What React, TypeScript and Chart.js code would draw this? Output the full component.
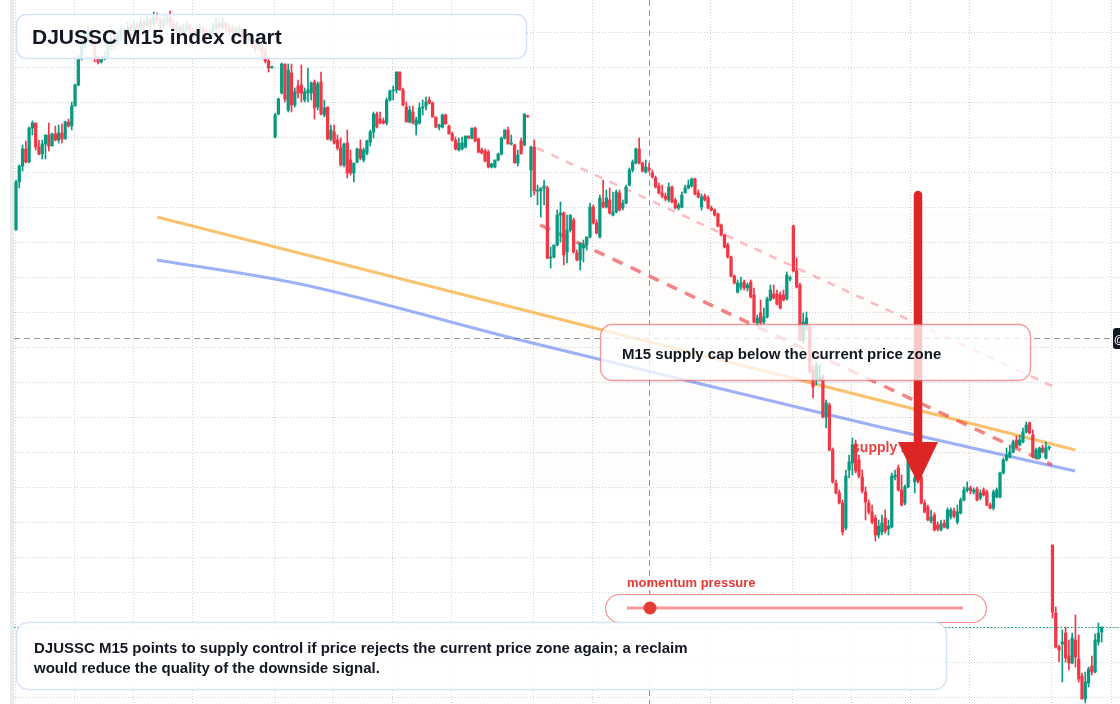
import React, { useEffect, useRef } from "react";
import { Chart, registerables } from "chart.js";

Chart.register(...registerables);

// ---- Candle data (index value, M15 bars) ----
const OPEN = [
  1570,1618,1634,1651,1638,1672,1677,1653,1646,1656,
  1665,1654,1666,1660,1667,1661,1678,1674,1694,1715,
  1742,1755,1762,1770,1758,1743,1738,1741,1743,1752,
  1760,1756,1764,1770,1766,1773,1769,1775,1772,1778,
  1774,1780,1776,1783,1780,1774,1778,1782,1776,1770,
  1773,1767,1771,1775,1770,1765,1769,1772,1767,1762,
  1766,1772,1776,1773,1777,1772,1768,1771,1767,1770,
  1765,1760,1763,1757,1752,1755,1748,1739,1732,1663,
  1686,1707,1736,1690,1727,1695,1714,1715,1700,1707,
  1707,1718,1693,1718,1685,1693,1661,1668,1660,1652,
  1635,1657,1640,1627,1638,1651,1640,1647,1658,1668,
  1686,1681,1679,1677,1700,1709,1710,1728,1710,1693,
  1678,1688,1675,1677,1692,1694,1700,1697,1683,1673,
  1673,1685,1674,1666,1660,1650,1651,1653,1664,1662,
  1672,1661,1650,1649,1648,1633,1633,1640,1646,1662,
  1670,1656,1655,1637,1659,1655,1684,1630,1653,1609,
  1609,1612,1612,1542,1543,1555,1585,1587,1548,1570,
  1580,1547,1540,1552,1555,1563,1593,1577,1563,1598,
  1593,1600,1585,1588,1607,1592,1597,1615,1630,1637,
  1651,1637,1628,1632,1627,1622,1614,1607,1604,1600,
  1613,1600,1592,1593,1607,1612,1614,1621,1607,1593,
  1604,1602,1592,1590,1586,1575,1565,1555,1543,1524,
  1508,1513,1518,1512,1518,1505,1477,1487,1478,1483,
  1500,1506,1506,1505,1505,1501,1521,1574,1529,1515,
  1460,1475,1473,1430,1420,1421,1422,1383,1395,1350,
  1317,1307,1297,1272,1330,1337,1356,1340,1323,1308,
  1297,1288,1282,1265,1268,1282,1271,1273,1323,1332,
  1310,1297,1313,1338,1318,1325,1323,1297,1293,1279,
  1285,1275,1270,1277,1272,1283,1289,1278,1287,1300,
  1310,1312,1308,1311,1302,1310,1308,1295,1292,1303,
  1303,1327,1340,1343,1348,1360,1355,1358,1368,1377,
  1365,1342,1342,1352,1342,1352,1255,1187,1153,1156,
  1167,1144,1137,1160,1141,1124,1101,1117,1134,1128,
  1158,1168,
];

const HIGH = [
  1620,1635,1655,1659,1673,1679,1677,1660,1660,1665,
  1677,1667,1674,1675,1676,1679,1681,1698,1716,1745,
  1760,1767,1774,1772,1760,1745,1743,1748,1756,1764,
  1765,1768,1774,1772,1778,1776,1780,1778,1782,1780,
  1784,1782,1788,1787,1782,1783,1785,1789,1780,1778,
  1775,1776,1779,1776,1772,1773,1776,1774,1770,1770,
  1777,1782,1780,1782,1778,1775,1775,1773,1774,1772,
  1768,1767,1765,1760,1760,1756,1752,1742,1734,1687,
  1702,1737,1736,1736,1736,1712,1720,1735,1712,1732,
  1718,1720,1718,1728,1700,1693,1675,1675,1665,1662,
  1657,1670,1650,1637,1652,1660,1652,1660,1670,1688,
  1688,1688,1682,1702,1710,1714,1728,1728,1712,1698,
  1694,1694,1683,1697,1700,1703,1703,1698,1683,1676,
  1686,1686,1675,1668,1663,1662,1663,1664,1664,1672,
  1673,1662,1652,1651,1650,1637,1640,1647,1663,1670,
  1673,1665,1656,1650,1662,1686,1685,1654,1660,1615,
  1612,1620,1614,1553,1555,1590,1598,1588,1585,1585,
  1582,1550,1557,1560,1562,1597,1595,1580,1605,1620,
  1610,1612,1608,1610,1610,1600,1615,1632,1640,1652,
  1662,1638,1640,1637,1630,1624,1617,1615,1607,1617,
  1614,1602,1597,1608,1615,1620,1622,1622,1610,1606,
  1606,1604,1594,1591,1587,1576,1566,1557,1544,1525,
  1520,1523,1520,1517,1520,1512,1485,1500,1492,1503,
  1515,1515,1510,1508,1510,1528,1524,1575,1542,1517,
  1487,1488,1475,1435,1438,1435,1425,1400,1397,1352,
  1320,1310,1300,1330,1345,1362,1360,1345,1330,1313,
  1300,1295,1285,1280,1285,1290,1280,1327,1330,1335,
  1325,1315,1342,1345,1337,1345,1325,1300,1295,1290,
  1287,1278,1280,1280,1292,1292,1292,1295,1302,1313,
  1318,1314,1312,1313,1310,1312,1310,1297,1310,1312,
  1328,1342,1352,1355,1360,1364,1365,1372,1378,1378,
  1370,1352,1353,1355,1358,1354,1255,1193,1155,1170,
  1173,1160,1167,1185,1165,1127,1128,1133,1144,1166,
  1177,1173,
];

const LOW = [
  1570,1612,1629,1637,1637,1665,1650,1645,1641,1641,
  1649,1654,1659,1657,1657,1661,1673,1670,1694,1714,
  1740,1752,1758,1754,1738,1736,1737,1740,1742,1750,
  1751,1754,1760,1761,1764,1765,1767,1766,1769,1770,
  1772,1771,1774,1776,1770,1771,1775,1773,1766,1767,
  1763,1765,1768,1766,1762,1763,1767,1764,1758,1760,
  1764,1770,1769,1771,1768,1765,1766,1763,1764,1762,
  1756,1758,1752,1748,1750,1742,1737,1728,1732,1662,
  1685,1706,1698,1688,1688,1693,1702,1698,1698,1698,
  1700,1681,1690,1685,1683,1660,1659,1656,1650,1634,
  1633,1622,1625,1618,1637,1640,1638,1645,1654,1662,
  1672,1676,1676,1675,1699,1700,1707,1710,1694,1678,
  1677,1676,1665,1676,1685,1690,1696,1683,1672,1670,
  1672,1676,1666,1659,1650,1649,1650,1652,1661,1661,
  1658,1647,1646,1638,1632,1632,1632,1639,1645,1661,
  1656,1655,1637,1634,1646,1654,1683,1603,1605,1595,
  1583,1595,1541,1532,1542,1554,1558,1535,1537,1568,
  1547,1539,1530,1538,1550,1562,1576,1566,1562,1592,
  1592,1586,1584,1587,1589,1590,1596,1614,1628,1636,
  1636,1628,1627,1628,1622,1612,1606,1602,1599,1598,
  1597,1591,1590,1592,1607,1611,1613,1605,1602,1590,
  1599,1591,1589,1584,1573,1564,1552,1542,1523,1516,
  1507,1510,1510,1509,1502,1477,1474,1476,1476,1482,
  1499,1501,1495,1491,1499,1500,1519,1528,1512,1459,
  1457,1470,1427,1402,1415,1419,1382,1372,1349,1317,
  1306,1296,1265,1270,1322,1325,1327,1322,1307,1280,
  1286,1276,1259,1262,1265,1267,1265,1272,1320,1309,
  1294,1295,1312,1330,1307,1322,1296,1287,1279,1277,
  1269,1269,1269,1272,1271,1281,1282,1276,1286,1299,
  1308,1306,1306,1299,1300,1304,1294,1291,1290,1302,
  1302,1326,1339,1342,1347,1352,1354,1357,1367,1366,
  1342,1341,1341,1347,1341,1350,1182,1152,1138,1118,
  1138,1130,1136,1133,1118,1101,1097,1113,1125,1127,
  1155,1158,
];

const CLOSE = [
  1618,1634,1651,1638,1672,1677,1653,1646,1656,1665,
  1654,1666,1660,1667,1661,1678,1674,1694,1715,1742,
  1755,1762,1770,1758,1743,1738,1741,1743,1752,1760,
  1756,1764,1770,1766,1773,1769,1775,1772,1778,1774,
  1780,1776,1783,1780,1774,1778,1782,1776,1770,1773,
  1767,1771,1775,1770,1765,1769,1772,1767,1762,1766,
  1772,1776,1773,1777,1772,1768,1771,1767,1770,1765,
  1760,1763,1757,1752,1755,1748,1739,1732,1733,1685,
  1701,1736,1701,1730,1695,1708,1707,1707,1708,1710,
  1717,1692,1716,1686,1692,1661,1670,1657,1652,1635,
  1656,1627,1627,1637,1651,1642,1650,1659,1668,1686,
  1673,1677,1677,1700,1709,1710,1728,1710,1695,1678,
  1690,1677,1680,1692,1693,1698,1697,1683,1673,1675,
  1685,1676,1666,1660,1651,1657,1657,1664,1662,1672,
  1659,1648,1647,1639,1633,1636,1640,1646,1662,1670,
  1656,1656,1637,1645,1646,1686,1683,1653,1609,1610,
  1612,1614,1542,1543,1555,1585,1587,1545,1570,1585,
  1548,1540,1557,1555,1563,1593,1577,1567,1602,1593,
  1602,1587,1588,1608,1590,1597,1613,1630,1638,1651,
  1637,1629,1633,1630,1623,1613,1607,1604,1601,1613,
  1598,1592,1595,1605,1612,1615,1621,1606,1603,1603,
  1600,1592,1590,1585,1574,1565,1553,1543,1524,1517,
  1517,1517,1512,1515,1503,1478,1482,1477,1483,1501,
  1510,1502,1496,1492,1500,1525,1521,1529,1513,1460,
  1478,1482,1428,1413,1434,1423,1383,1397,1350,1318,
  1307,1297,1268,1324,1338,1355,1329,1324,1309,1298,
  1288,1278,1265,1274,1277,1269,1274,1324,1325,1310,
  1295,1313,1340,1335,1322,1340,1297,1288,1280,1283,
  1270,1271,1276,1273,1290,1290,1284,1288,1300,1310,
  1312,1309,1310,1300,1307,1305,1295,1292,1308,1310,
  1327,1340,1345,1348,1358,1353,1360,1368,1375,1367,
  1343,1350,1352,1348,1352,1352,1188,1153,1150,1158,
  1142,1137,1162,1143,1121,1101,1118,1131,1128,1160,
  1167,1173,
];

// session grid (candle index) and price grid (index points)
const TIME_GRID = [0, 18, 36, 54, 79, 97, 115, 133, 158, 176, 212, 237, 255, 273, 291, 316, 334];
const PRICE_GRID = [1768, 1733, 1698, 1663, 1628, 1593, 1558, 1523, 1488, 1453, 1418, 1383, 1348, 1313, 1278, 1243, 1208, 1173, 1138, 1103];

// overlay studies, [candle index, price]
const ORANGE_LINE = [[43, 1583], [323, 1350]];
const BLUE_LINE = [[43, 1540], [86.6, 1516], [153.7, 1460], [232.9, 1397], [263.4, 1373], [322.9, 1329]];
const UPPER_CHANNEL = [[158.8, 1652], [315.9, 1414]];
const LOWER_CHANNEL = [[159.8, 1575], [315.9, 1335]];

const ZONE = { x0: 155.8, x1: 315.2, top: 1587, bottom: 1310 };
const ARROW = { x: 275, top: 1605, base: 1358, tip: 1316 };
const SUPPLY_LABEL = { x: 254.9, y: 1352 };
const CROSSHAIR = { x: 193, y: 1462 };

const UP = "#089981";
const DOWN = "#f23645";
const FONT = '"Liberation Sans", Arial, Helvetica, sans-serif';

const X_MIN = -16 / 3.28;
const X_MAX = X_MIN + 1120 / 3.28;

function rr(ctx: CanvasRenderingContext2D, x: number, y: number, w: number, h: number, r: number | number[]) {
  ctx.beginPath();
  (ctx as any).roundRect(x, y, w, h, r);
}

const decor = {
  id: "decor",
  beforeDraw(chart: any) {
    const { ctx, width, height } = chart;
    ctx.save();
    ctx.fillStyle = "#ffffff";
    ctx.fillRect(0, 0, width, height);
    ctx.fillStyle = "#ebebeb";
    ctx.fillRect(10, 0, 4, height);
    ctx.restore();
  },
  beforeDatasetsDraw(chart: any) {
    const { ctx, width, height } = chart;
    const xs = chart.scales.x;
    const ys = chart.scales.y;
    ctx.save();
    // supply zone shading
    const zx0 = xs.getPixelForValue(ZONE.x0);
    const zx1 = xs.getPixelForValue(ZONE.x1);
    const zy0 = ys.getPixelForValue(ZONE.top);
    const zy1 = ys.getPixelForValue(ZONE.bottom);
    ctx.fillStyle = "rgba(250,120,90,0.018)";
    rr(ctx, zx0, zy0, zx1 - zx0, zy1 - zy0, [0, 0, 22, 0]);
    ctx.fill();
    // dotted grid
    ctx.strokeStyle = "#ced1d6";
    ctx.lineWidth = 1;
    ctx.setLineDash([1, 2]);
    for (const t of TIME_GRID) {
      const x = Math.round(xs.getPixelForValue(t)) - 0.5;
      ctx.beginPath();
      ctx.moveTo(x, 0);
      ctx.lineTo(x, height);
      ctx.stroke();
    }
    for (const p of PRICE_GRID) {
      const y = Math.round(ys.getPixelForValue(p)) + 0.5;
      ctx.beginPath();
      ctx.moveTo(14, y);
      ctx.lineTo(width, y);
      ctx.stroke();
    }
    ctx.restore();
  },
  afterDatasetsDraw(chart: any) {
    const { ctx, width, height } = chart;
    const xs = chart.scales.x;
    const ys = chart.scales.y;
    ctx.save();

    // crosshair
    ctx.strokeStyle = "rgba(120,123,134,0.8)";
    ctx.lineWidth = 1;
    ctx.setLineDash([6, 4]);
    const cx = Math.round(xs.getPixelForValue(CROSSHAIR.x)) + 0.5;
    const cy = Math.round(ys.getPixelForValue(CROSSHAIR.y)) + 0.5;
    ctx.beginPath();
    ctx.moveTo(cx, 0);
    ctx.lineTo(cx, height);
    ctx.stroke();
    ctx.beginPath();
    ctx.moveTo(14, cy);
    ctx.lineTo(1113, cy);
    ctx.stroke();

    // last price line
    ctx.strokeStyle = UP;
    ctx.setLineDash([1.5, 2]);
    const ly = Math.round(ys.getPixelForValue(CLOSE[CLOSE.length - 1])) + 0.5;
    ctx.beginPath();
    ctx.moveTo(14, ly);
    ctx.lineTo(width, ly);
    ctx.stroke();
    ctx.setLineDash([]);

    // supply zone label
    ctx.font = `bold 14px ${FONT}`;
    ctx.fillStyle = "rgba(224,49,49,0.9)";
    ctx.textBaseline = "middle";
    ctx.textAlign = "left";
    ctx.fillText("supply zone", xs.getPixelForValue(SUPPLY_LABEL.x), ys.getPixelForValue(SUPPLY_LABEL.y));

    // arrow
    const ax = xs.getPixelForValue(ARROW.x);
    const aTop = ys.getPixelForValue(ARROW.top);
    const aBase = ys.getPixelForValue(ARROW.base);
    const aTip = ys.getPixelForValue(ARROW.tip);
    ctx.strokeStyle = "#dc2626";
    ctx.lineWidth = 8.5;
    ctx.lineCap = "round";
    ctx.beginPath();
    ctx.moveTo(ax, aTop);
    ctx.lineTo(ax, aBase + 2);
    ctx.stroke();
    ctx.lineCap = "butt";
    ctx.fillStyle = "#dc2626";
    ctx.beginPath();
    ctx.moveTo(ax - 20, aBase);
    ctx.lineTo(ax + 20, aBase);
    ctx.lineTo(ax, aTip);
    ctx.closePath();
    ctx.fill();

    // M15 supply cap box
    rr(ctx, 600.5, 324.5, 430, 56, 12);
    ctx.fillStyle = "rgba(255,255,255,0.76)";
    ctx.fill();
    ctx.strokeStyle = "rgba(235,87,87,0.6)";
    ctx.lineWidth = 1.3;
    ctx.stroke();
    ctx.fillStyle = "#131722";
    ctx.font = `bold 15px ${FONT}`;
    ctx.textBaseline = "alphabetic";
    ctx.fillText("M15 supply cap below the current price zone", 622, 359);

    // title box
    rr(ctx, 16.5, 14.5, 510, 44, 10);
    ctx.fillStyle = "rgba(255,255,255,0.86)";
    ctx.fill();
    ctx.strokeStyle = "#d6e3f6";
    ctx.lineWidth = 1.5;
    ctx.stroke();
    ctx.fillStyle = "#131722";
    ctx.font = `bold 21px ${FONT}`;
    ctx.fillText("DJUSSC M15 index chart", 32, 44);

    // momentum gauge
    ctx.font = `bold 13px ${FONT}`;
    ctx.fillStyle = "#e53935";
    ctx.fillText("momentum pressure", 627, 587);
    rr(ctx, 605.5, 594.5, 381, 28, 14);
    ctx.fillStyle = "rgba(255,255,255,0.9)";
    ctx.fill();
    ctx.strokeStyle = "rgba(239,83,80,0.65)";
    ctx.lineWidth = 1.2;
    ctx.stroke();
    ctx.strokeStyle = "rgba(239,83,80,0.6)";
    ctx.lineWidth = 3;
    ctx.beginPath();
    ctx.moveTo(627, 608);
    ctx.lineTo(963, 608);
    ctx.stroke();
    ctx.fillStyle = "#e53935";
    ctx.beginPath();
    ctx.arc(650, 608, 6.5, 0, Math.PI * 2);
    ctx.fill();

    // bottom note
    rr(ctx, 16.5, 622.5, 930, 67, 12);
    ctx.fillStyle = "rgba(255,255,255,0.92)";
    ctx.fill();
    ctx.strokeStyle = "#d6e3f6";
    ctx.lineWidth = 1.5;
    ctx.stroke();
    ctx.fillStyle = "#131722";
    ctx.font = `bold 15px ${FONT}`;
    ctx.fillText("DJUSSC M15 points to supply control if price rejects the current price zone again; a reclaim", 34, 653);
    ctx.fillText("would reduce the quality of the downside signal.", 34, 673);

    // right edge crosshair label
    rr(ctx, 1113, 328, 24, 21, 3);
    ctx.fillStyle = "#131722";
    ctx.fill();
    ctx.fillStyle = "#ffffff";
    ctx.font = `bold 11px ${FONT}`;
    ctx.fillText("@", 1114, 343);

    ctx.restore();
  },
};

export default function App() {
  const ref = useRef<HTMLCanvasElement | null>(null);

  useEffect(() => {
    document.body.style.margin = "0";
    const canvas = ref.current;
    if (!canvas) return;
    const idx = OPEN.map((_, i) => i);
    const wicks = idx.map((i) => ({
      x: i,
      y: [Math.min(LOW[i], OPEN[i], CLOSE[i]), Math.max(HIGH[i], OPEN[i], CLOSE[i])],
    }));
    const bodies = idx.map((i) => ({ x: i, y: [OPEN[i], CLOSE[i]] }));
    const colorOf = (c: any) => (CLOSE[c.dataIndex] >= OPEN[c.dataIndex] ? UP : DOWN);
    const pts = (arr: number[][]) => arr.map(([x, y]) => ({ x, y }));

    const chart = new Chart(canvas, {
      type: "bar",
      data: {
        datasets: [
          {
            type: "line",
            data: pts(ORANGE_LINE),
            borderColor: "rgba(246,170,55,0.72)",
            borderWidth: 3,
            pointRadius: 0,
            order: 5,
          } as any,
          {
            type: "line",
            data: pts(BLUE_LINE),
            borderColor: "rgba(90,125,240,0.6)",
            borderWidth: 3,
            pointRadius: 0,
            cubicInterpolationMode: "monotone",
            order: 5,
          } as any,
          {
            type: "line",
            data: pts(UPPER_CHANNEL),
            borderColor: "rgba(242,54,69,0.33)",
            borderWidth: 2.5,
            borderDash: [8, 8],
            pointRadius: 0,
            order: 4,
          } as any,
          {
            type: "line",
            data: pts(LOWER_CHANNEL),
            borderColor: "rgba(232,60,60,0.62)",
            borderWidth: 3.5,
            borderDash: [11, 9],
            pointRadius: 0,
            order: 4,
          } as any,
          {
            type: "bar",
            data: wicks,
            backgroundColor: colorOf,
            barThickness: 1,
            grouped: false,
            borderWidth: 0,
            order: 1,
          } as any,
          {
            type: "bar",
            data: bodies,
            backgroundColor: colorOf,
            barThickness: 2.6,
            minBarLength: 1,
            grouped: false,
            borderWidth: 0,
            order: 0,
          } as any,
        ],
      },
      options: {
        responsive: false,
        maintainAspectRatio: false,
        animation: false,
        devicePixelRatio: 1,
        layout: { padding: 0 },
        events: [],
        plugins: { legend: { display: false }, tooltip: { enabled: false } },
        scales: {
          x: { type: "linear", min: X_MIN, max: X_MAX, display: false, offset: false },
          y: { type: "linear", min: 1096, max: 1800, display: false },
        },
      } as any,
      plugins: [decor as any],
    });
    return () => chart.destroy();
  }, []);

  return (
    <div style={{ position: "fixed", left: 0, top: 0, width: 1120, height: 704 }}>
      <canvas ref={ref} width={1120} height={704} style={{ width: 1120, height: 704, display: "block" }} />
    </div>
  );
}
